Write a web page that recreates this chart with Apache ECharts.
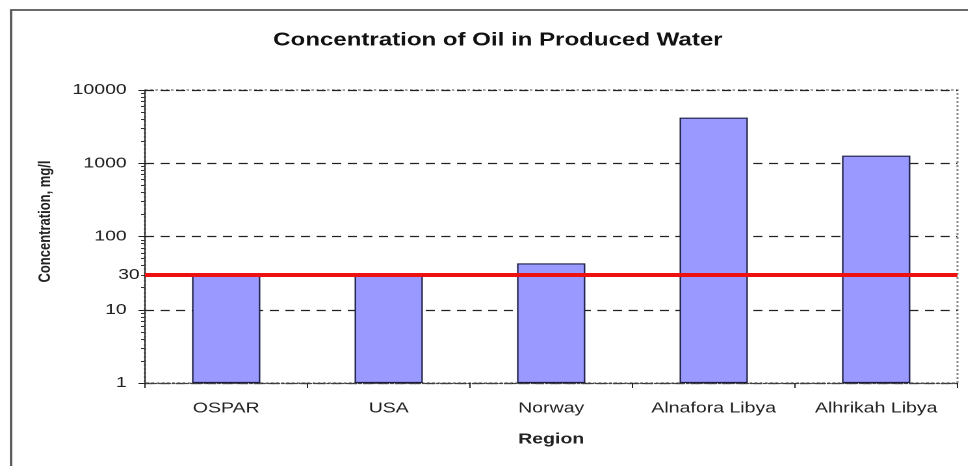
<!DOCTYPE html>
<html>
<head>
<meta charset="utf-8">
<script src="https://cdn.jsdelivr.net/npm/echarts@6/dist/echarts.min.js"></script>
<style>
    html, body {margin: 0; padding: 0; background: #fff; overflow: hidden;}
    /* the source picture is stretched sideways, so draw narrower and stretch */
    #main {width: 745px; height: 466px; transform: scaleX(1.3); transform-origin: 0 0;}
</style>
</head>
<body>
<div id="main"></div>
<script>
// data
let regions = ['OSPAR', 'USA', 'Norway', 'Alnafora Libya', 'Alhrikah Libya'];
let concentration = [30, 30, 43, 4200, 1270];
let limitValue = 30;  // red limit line

let myChart = echarts.init(document.getElementById('main'), null, {devicePixelRatio: 2});
let fontFam = 'Liberation Sans, Arial, sans-serif';

// grid in the un-stretched frame
let gLeft = 111.5, gRight = 8.5, gTop = 90, gBottom = 83;

myChart.setOption({
    animation: false,
    title: {
        text: 'Concentration of Oil in Produced Water',
        left: 378,
        textAlign: 'center',
        top: 26,
        textStyle: {fontFamily: fontFam, fontSize: 18.5, fontWeight: 'bold', color: '#111'}
    },
    grid: {left: gLeft, right: gRight, top: gTop, bottom: gBottom},
    graphic: [
        {   // outer frame (top + left)
            type: 'polyline', silent: true,
            shape: {points: [[8.5, 470], [8.5, 10], [760, 10]]},
            style: {stroke: '#555', lineWidth: 1.8, fill: null}
        },
        {   // plot area border, dotted
            type: 'rect', silent: true, z: 0,
            shape: {x: gLeft, y: gTop, width: 745 - gLeft - gRight, height: 466 - gTop - gBottom},
            style: {stroke: '#888', lineWidth: 1.5, lineDash: [2, 2], fill: null}
        }
    ],
    xAxis: {
        type: 'category',
        data: regions,
        name: 'Region',
        nameLocation: 'middle',
        nameGap: 49,
        nameTextStyle: {fontFamily: fontFam, fontSize: 15, fontWeight: 'bold', color: '#222'},
        axisLine: {lineStyle: {color: '#444', type: [2, 1.5], width: 1.2}},
        axisTick: {show: true, length: 5, lineStyle: {color: '#222'}},
        axisLabel: {fontFamily: fontFam, fontSize: 15, color: '#222', margin: 18}
    },
    yAxis: {
        type: 'log',
        logBase: 10,
        min: 1,
        max: 10000,
        name: 'Concentration, mg/l',
        nameLocation: 'middle',
        nameGap: 70,
        nameTextStyle: {
            fontFamily: fontFam, fontSize: 13, fontWeight: 'bold', color: '#222',
            padding: [0, 0, 0, 30]  // nudge it up a little, like the source
        },
        axisLine: {show: true, lineStyle: {color: '#222', width: 1}},
        axisTick: {show: true, length: 5, lineStyle: {color: '#222'}},
        minorTick: {show: true, splitNumber: 9, length: 3, lineStyle: {color: '#333'}},
        axisLabel: {
            fontFamily: fontFam, fontSize: 15, color: '#222', margin: 14,
            formatter: (v) => String(Math.round(v))
        },
        splitLine: {show: true, lineStyle: {color: '#222', type: [7, 5], width: 1.3}}
    },
    series: [{
        type: 'bar',
        data: concentration,
        barWidth: '42%',
        itemStyle: {color: '#9999ff', borderColor: '#1c1c40', borderWidth: 1.1},
        markLine: {
            silent: true,
            symbol: 'none',
            lineStyle: {color: '#ee1111', width: 4, type: 'solid'},
            label: {
                show: true,
                position: 'start',
                distance: 4,
                formatter: String(limitValue),
                fontFamily: fontFam, fontSize: 15, color: '#222'
            },
            data: [{yAxis: limitValue}]
        }
    }]
});
</script>
</body>
</html>
